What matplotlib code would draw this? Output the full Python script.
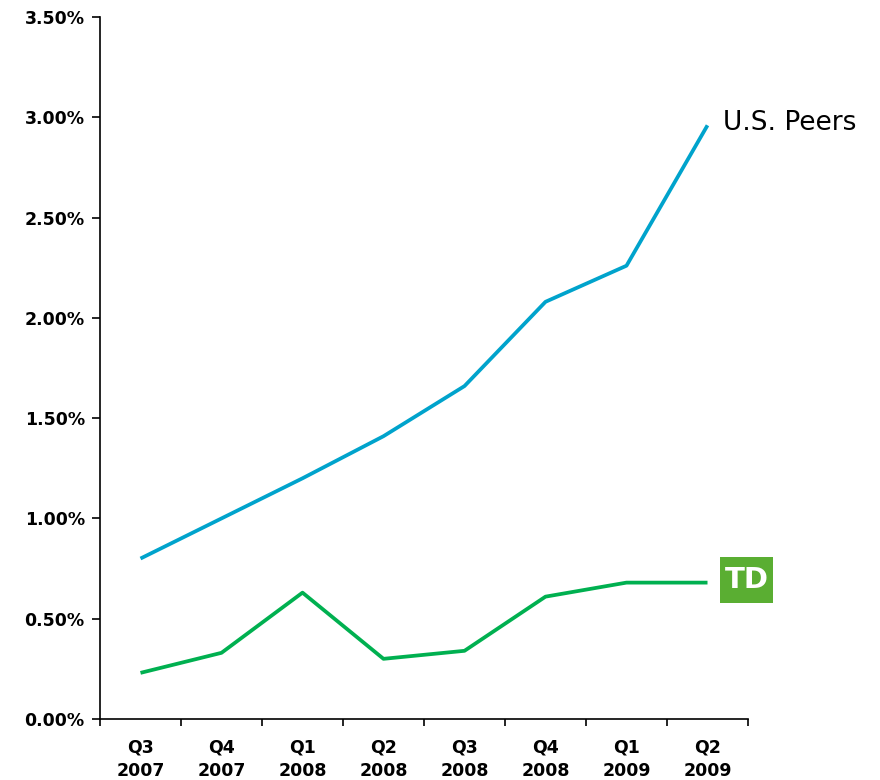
import matplotlib.pyplot as plt
from matplotlib.patches import Rectangle

quarters = ["Q3\n2007", "Q4\n2007", "Q1\n2008", "Q2\n2008",
            "Q3\n2008", "Q4\n2008", "Q1\n2009", "Q2\n2009"]
us_peers = [0.80, 1.00, 1.20, 1.41, 1.66, 2.08, 2.26, 2.96]
td_bank = [0.23, 0.33, 0.63, 0.30, 0.34, 0.61, 0.68, 0.68]

plt.rcParams['font.family'] = ['DejaVu Sans']

fig = plt.figure(figsize=(8.8, 7.8), dpi=100)
ax = fig.add_axes([100 / 880, 61 / 780, 648 / 880, 702 / 780])

x = list(range(len(quarters)))
ax.plot(x, us_peers, color="#00A3CC", lw=2.7, solid_capstyle="butt")
ax.plot(x, td_bank, color="#00B050", lw=2.7, solid_capstyle="butt")

ax.set_xlim(-0.5, len(quarters) - 0.5)
ax.set_ylim(0, 3.5)
ax.set_yticks([i * 0.5 for i in range(8)])
ax.set_yticklabels([f"{i * 0.5:.2f}%" for i in range(8)],
                   fontsize=12.5, fontweight="bold")
ax.set_xticks([i - 0.5 for i in range(len(quarters) + 1)])
ax.set_xticklabels([])
ax.set_xticks(x, minor=True)
ax.set_xticklabels(quarters, minor=True, fontsize=12.5, fontweight="bold",
                   linespacing=1.4)
ax.tick_params(axis="x", which="minor", length=0, pad=14)
ax.tick_params(axis="x", which="major", length=5, width=1.2, direction="out")
ax.tick_params(axis="y", length=6, width=1.2, direction="out", pad=5)

for side in ["top", "right"]:
    ax.spines[side].set_visible(False)
for side in ["left", "bottom"]:
    ax.spines[side].set_linewidth(1.2)

fig.text(723 / 880, (780 - 123) / 780, "U.S. Peers", fontsize=19,
         va="center", ha="left")

# TD logo box
logo = Rectangle((720 / 880, (780 - 603) / 780), 53 / 880, 46 / 780,
                 transform=fig.transFigure, facecolor="#5AAE32",
                 edgecolor="none")
fig.patches.append(logo)
fig.text(746.5 / 880, (780 - 580) / 780, "TD", color="white", fontsize=21,
         fontweight="bold", ha="center", va="center")

fig.savefig("out.png", dpi=100)
